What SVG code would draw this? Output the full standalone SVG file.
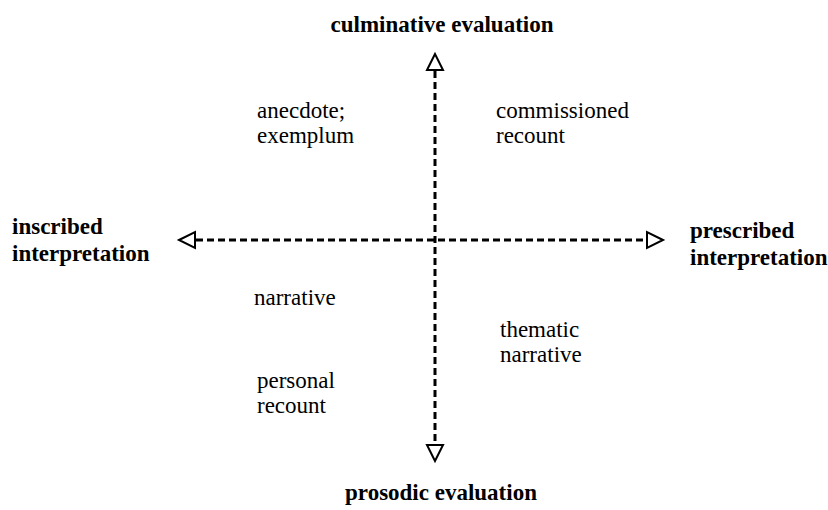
<svg xmlns="http://www.w3.org/2000/svg" width="828" height="510" viewBox="0 0 828 510">
  <style>
    .axis { stroke: #000; stroke-width: 3; stroke-dasharray: 7 4; fill: none; }
    .head { stroke: #000; stroke-width: 2; fill: #fff; stroke-linejoin: miter; }
    .pole { font-family: "Liberation Serif", "Times New Roman", serif; font-size: 23px; font-weight: bold; fill: #000; }
    .genre { font-family: "Liberation Serif", "Times New Roman", serif; font-size: 23px; fill: #000; }
  </style>
  <rect width="828" height="510" fill="#fff"/>

  <!-- axes -->
  <g id="connectors">
    <line class="axis" x1="435" y1="71" x2="435" y2="445"/>
    <line class="axis" x1="196" y1="240" x2="647" y2="240"/>
    <polygon class="head" points="435,54 427,70 443,70"/>
    <polygon class="head" points="435,461 427,445 443,445"/>
    <polygon class="head" points="179,240 195,232 195,248"/>
    <polygon class="head" points="663,240 647,232 647,248"/>
  </g>

  <!-- axis poles -->
  <g id="culminative">
    <text class="pole" x="442" y="32" text-anchor="middle">culminative evaluation</text>
  </g>
  <g id="prosodic">
    <text class="pole" x="441" y="500" text-anchor="middle">prosodic evaluation</text>
  </g>
  <g id="inscribed">
    <text class="pole" x="12" y="234">inscribed</text>
    <text class="pole" x="12" y="261">interpretation</text>
  </g>
  <g id="prescribed">
    <text class="pole" x="690" y="238">prescribed</text>
    <text class="pole" x="690" y="265">interpretation</text>
  </g>

  <!-- genres in each quadrant -->
  <g id="anecdote">
    <text class="genre" x="257" y="118">anecdote;</text>
    <text class="genre" x="257" y="143">exemplum</text>
  </g>
  <g id="commissioned-recount">
    <text class="genre" x="496" y="118">commissioned</text>
    <text class="genre" x="496" y="143">recount</text>
  </g>
  <g id="narrative">
    <text class="genre" x="254" y="305">narrative</text>
  </g>
  <g id="thematic-narrative">
    <text class="genre" x="500" y="337">thematic</text>
    <text class="genre" x="500" y="362">narrative</text>
  </g>
  <g id="personal-recount">
    <text class="genre" x="257" y="388">personal</text>
    <text class="genre" x="257" y="413">recount</text>
  </g>
</svg>
